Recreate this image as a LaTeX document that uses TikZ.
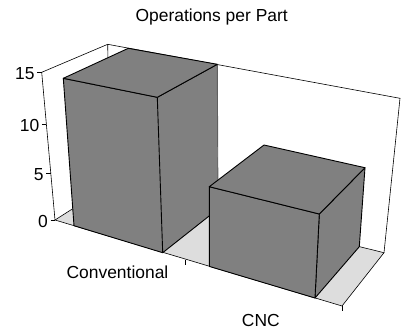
\documentclass[tikz,border=0pt]{standalone}
\usepackage{fontspec}
\setmainfont{Liberation Sans}
\usepackage{xcolor}
\usepackage{tikz}
\definecolor{bargray}{HTML}{808080}
\definecolor{edgegray}{HTML}{606060}
\definecolor{floorgray}{HTML}{DDDDDD}

\begin{document}
\begin{tikzpicture}[x=1bp,y=-1bp,
    every node/.style={font=\fontsize{17.5}{20}\selectfont,inner sep=0pt},
    frame/.style={draw=black,line width=0.6bp},
    face/.style={fill=bargray,draw=black,line width=0.9bp,line join=round}]
    \useasboundingbox (0,0) rectangle (405,331);
    % walls and floor
    \draw[frame] (41.7,72.3) -- (107.7,44.3) -- (400,98.3) -- (384,252.7);
    \draw[frame] (107.7,44.3) -- (110,185);
    \draw[frame] (41.7,72.3) -- (55,220);
    \filldraw[frame,fill=floorgray] (55,220) -- (342,306) -- (384,252.7) -- (110,185) -- cycle;
    % value axis
    \foreach \v/\x/\y in {15/41.7/72.3, 10/46.4/124, 5/50.8/173.3, 0/55/220}{
      \draw[frame] (\x-4.5,\y) -- (\x,\y);
      \node[anchor=east] (lab\v) at (\x-7,\y+1) {\v};
    }
    % category ticks
    \draw[frame] (185,259.5) -- (185,264.5);
    \draw[frame] (342,306) -- (342,311);
    % Conventional bar
    \fill[bargray] (157.3,97.3) -- (217.3,64.3) -- (218,209) -- (162.7,252.7) -- cycle;
    \draw[edgegray,line width=0.9bp] (217.3,64.3) -- (218,209);
    \draw[face,fill=none] (217.3,64.3) -- (157.3,97.3) (218,209) -- (162.7,252.7);
    \filldraw[face] (63.3,78.3) -- (157.3,97.3) -- (162.7,252.7) -- (74,225.7) -- cycle;
    \filldraw[face] (63.3,78.3) -- (157.3,97.3) -- (217.3,64.3) -- (128.3,48.3) -- cycle;
    % CNC bar
    \filldraw[face] (319.3,214) -- (365,167.7) -- (359.3,246.7) -- (315,298) -- cycle;
    \filldraw[face] (209.3,186.7) -- (319.3,214) -- (315,298) -- (209.3,266.4) -- cycle;
    \filldraw[face] (209.3,186.7) -- (319.3,214) -- (365,167.7) -- (264,145) -- cycle;
    % labels
    \node[anchor=base] (title) at (211.7,21.7) {Operations per Part};
    \node[anchor=base] (conv) at (117.5,278.3) {Conventional};
    \node[anchor=base] (cnc) at (260.8,326) {CNC};
\end{tikzpicture}
\end{document}
